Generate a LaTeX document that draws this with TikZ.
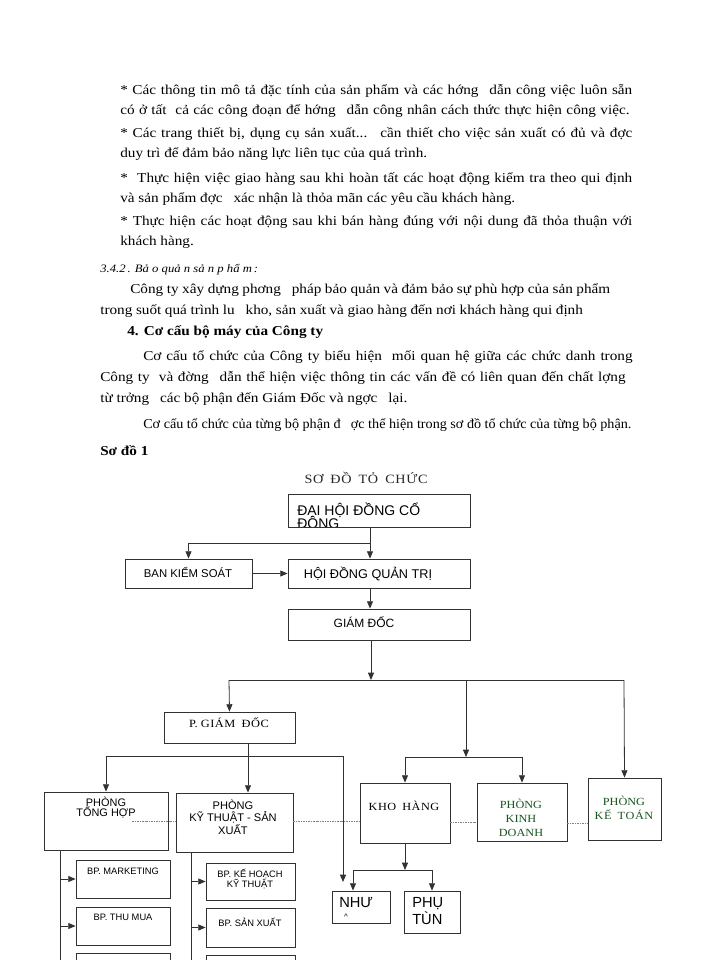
\documentclass[tikz,border=0pt]{standalone}
\usepackage{fontspec}
\usepackage{graphicx}
\setmainfont{Liberation Serif}[FakeStretch=1.12]
\newfontfamily\arialf{Liberation Sans}
\usetikzlibrary{arrows.meta}
\definecolor{lnc}{RGB}{50,50,50}
\definecolor{dgreen}{RGB}{25,85,30}
\tikzset{
  box/.style={draw=lnc, line width=0.6pt, rectangle, inner sep=0pt},
  arr/.style={draw=lnc, line width=0.6pt, -{Triangle[length=5.5pt,width=4.5pt]}},
  ln/.style={draw=lnc, line width=0.6pt},
  dotl/.style={draw=gray, line width=0.6pt, dash pattern=on 1.5pt off 0.8pt on 0.5pt off 0.8pt},
  body/.style={anchor=base west, inner sep=0pt, font=\fontsize{10.2}{12}\selectfont},
  sans/.style={inner sep=0pt, align=center, font=\arialf},
  serif/.style={inner sep=0pt, align=center},
}
\newcommand\boxat[5]{\node[box, minimum width={(#4-#2)*0.75pt}, minimum height={(#5-#3)*0.75pt}] (#1) at ({(#2+#4)/2},{(#3+#5)/2}) {};}
\newcommand\gp{\hspace{0.8em}}
\begin{document}
\begin{tikzpicture}[x=0.75pt,y=-0.75pt]
\useasboundingbox (0,0) rectangle (700,960);
\clip (0,0) rectangle (700,960);
\fill[white] (0,0) rectangle (700,960);
% ---------------- body text ----------------
\node[body] (t1) at (120,94) {\makebox[384pt][s]{* Các thông tin mô tả đặc tính của sản phẩm và các hớng\gp dẫn công việc luôn sẵn}};
\node[body] (t2) at (120,114) {\makebox[382pt][s]{có ở tất \ cả các công đoạn để hớng\gp dẫn công nhân cách thức thực hiện công việc.}};
\node[body] (t3) at (120,137) {\makebox[384pt][s]{* Các trang thiết bị, dụng cụ sản xuất... \ cần thiết cho việc sản xuất có đủ và đợc}};
\node[body] (t4) at (120,157) {duy trì để đảm bảo năng lực liên tục của quá trình.};
\node[body] (t5) at (120,182) {\makebox[384pt][s]{* \ Thực hiện việc giao hàng sau khi hoàn tất các hoạt động kiểm tra theo qui định}};
\node[body] (t6) at (120,202) {và sản phẩm đợc\gp xác nhận là thỏa mãn các yêu cầu khách hàng.};
\node[body] (t7) at (120,225) {\makebox[384pt][s]{* Thực hiện các hoạt động sau khi bán hàng đúng với nội dung đã thỏa thuận với}};
\node[body] (t8) at (120,245) {khách hàng.};
\node[body, font=\fontsize{8.5}{10}\selectfont\itshape] (t9) at (100,272) {3.4.2\,. Bả o quả n sả n p hẩ m\,:};
\node[body] (t10) at (130,293) {\makebox[360pt][s]{Công ty xây dựng phơng\gp pháp bảo quản và đảm bảo sự phù hợp của sản phẩm}};
\node[body] (t11) at (100,314) {\makebox[362pt][s]{trong suốt quá trình lu\gp kho, sản xuất và giao hàng đến nơi khách hàng qui định}};
\node[body, font=\fontsize{10.2}{12}\selectfont\bfseries] (t12) at (127,335) {4. Cơ cấu bộ máy của Công ty};
\node[body] (t13) at (143,360) {\makebox[367pt][s]{Cơ cấu tổ chức của Công ty biểu hiện \ mối quan hệ giữa các chức danh trong}};
\node[body] (t14) at (100,381) {\makebox[394pt][s]{Công ty \ và đờng\gp dẫn thể hiện việc thông tin các vấn đề có liên quan đến chất lợng}};
\node[body] (t15) at (100,402) {từ trởng\gp các bộ phận đến Giám Đốc và ngợc\gp lại.};
\node[body] (t16) at (143,428) {\scalebox{0.93}[1]{Cơ cấu tổ chức của từng bộ phận đ\gp ợc thể hiện trong sơ đồ tổ chức của từng bộ phận.}};
\node[body, font=\fontsize{10.2}{12}\selectfont\bfseries] (t17) at (100,455) {Sơ đồ 1};
% ---------------- chart ----------------
\node[serif, font=\fontsize{9.5}{12}\selectfont, text=black!85] (title) at (366,478) {S\kern0.5ptƠ \ Đ\kern0.5ptỒ \ T\kern0.5ptỎ \ C\kern0.5ptH\kern0.5ptỨ\kern0.5ptC};
\boxat{dhd}{288}{494}{470}{527}
\begin{scope}
\clip (288,494) rectangle (470,526);
\node[sans, anchor=west, font=\arialf\fontsize{10.5}{12}\selectfont] (dhdb) at (297,522) {ĐÔNG};
\end{scope}
\node[sans, anchor=west, font=\arialf\fontsize{10.5}{12}\selectfont] (dhdt) at (297,510) {ĐẠI HỘI ĐỒNG CỔ};
\boxat{bks}{125}{559}{252}{588}
\node[sans, font=\arialf\fontsize{8.5}{10}\selectfont] (bkst) at (188,572) {BAN KIỂM SOÁT};
\boxat{hdqt}{288}{559}{470}{588}
\node[sans, font=\arialf\fontsize{9.5}{11}\selectfont] (hdqtt) at (368,574) {HỘI ĐỒNG QUẢN TRỊ};
\boxat{gd}{288}{609}{470}{640}
\node[sans, font=\arialf\fontsize{9}{11}\selectfont] (gdt) at (364,622) {GIÁM ĐỐC};
\boxat{pgd}{164}{712}{295}{743}
\node[serif, font=\fontsize{8.3}{10}\selectfont] (pgdt) at (229,723) {P.\ G\kern0.4ptI\kern0.4ptÁ\kern0.4ptM \ Đ\kern0.4ptỐ\kern0.4ptC};
\boxat{kho}{360}{783}{450}{843}
\node[serif, font=\fontsize{8.2}{10}\selectfont] (khot) at (404,806) {K\kern0.4ptH\kern0.4ptO \ H\kern0.4ptÀ\kern0.4ptN\kern0.4ptG};
\boxat{kd}{477}{783}{567}{841}
\node[serif, font=\fontsize{8.2}{10.5}\selectfont, text=dgreen] (kdt) at (521,818) {PHÒNG\\KINH\\DOANH};
\boxat{ktoan}{588}{778}{661}{840}
\node[serif, font=\fontsize{8.2}{10}\selectfont, text=dgreen] (ktoant) at (624,808) {PHÒNG\\K\kern0.4ptẾ \ T\kern0.4ptO\kern0.4ptÁ\kern0.4ptN};
\boxat{th}{44}{792}{168}{850}
\node[sans, font=\arialf\fontsize{8.2}{7.5}\selectfont] (tht) at (106,808) {PHÒNG\\TỔNG HỢP};
\boxat{kyt}{176}{793}{293}{852}
\node[sans, font=\arialf\fontsize{8.3}{9.5}\selectfont] (kytt) at (233,817) {PHÒNG\\KỸ THUẬT - SẢN\\XUẤT};
\boxat{mk}{76}{860}{170}{898}
\node[sans, font=\arialf\fontsize{7}{8}\selectfont] (mkt) at (123,871) {BP. MARKETING};
\boxat{tm}{76}{907}{170}{945}
\node[sans, font=\arialf\fontsize{7}{8}\selectfont] (tmt) at (123,917) {BP. THU MUA};
\boxat{b3}{76}{953}{170}{991}
\boxat{khkt}{206}{863}{295}{900}
\node[sans, font=\arialf\fontsize{7}{7.5}\selectfont] (khktt) at (250,879) {BP. KẾ HOẠCH\\KỸ THUẬT};
\boxat{sx}{206}{908}{295}{947}
\node[sans, font=\arialf\fontsize{7}{8}\selectfont] (sxt) at (250,922) {BP. SẢN XUẤT};
\boxat{c3}{206}{955}{295}{993}
\boxat{nhu}{332}{891}{390}{923}
\node[sans, anchor=west, font=\arialf\fontsize{11}{12}\selectfont] (nhut) at (339,903) {NHƯ};
\node[sans, font=\arialf\fontsize{6}{7}\selectfont] (nhua) at (346,917) {\textasciicircum};
\boxat{pt}{404}{891}{460}{933}
\node[sans, anchor=west, align=left, font=\arialf\fontsize{11}{11}\selectfont] (ptt) at (412,911) {PHỤ\\TÙN};
% ---------------- connectors ----------------
\coordinate (j1) at (370,543);
\draw[ln] (dhd.south -| j1) -- (j1);
\draw[arr] (j1) -- (hdqt.north -| j1);
\draw[arr] (j1) -| (bks.north);
\draw[arr] (bks.east) -- (hdqt.west);
\draw[arr] (hdqt.south -| j1) -- (gd.north -| j1);
\coordinate (j2) at (371,680);
\draw[arr] (gd.south -| j2) -- (j2);
\coordinate (jl) at (229,680);
\coordinate (jr) at (624,680);
\coordinate (jm) at (466,680);
\draw[ln] (jl) -- (jr);
\draw[arr] (jl) -- (pgd.north);
\draw[arr] (jr) -- (ktoan.north);
\coordinate (j3) at (466,757);
\draw[arr] (jm) -- (j3);
\coordinate (j3l) at (405,757);
\coordinate (j3r) at (522,757);
\draw[ln] (j3l) -- (j3r);
\draw[arr] (j3l) -- (kho.north);
\draw[arr] (j3r) -- (kd.north);
% P. Giam doc branch
\coordinate (j4l) at (106,756);
\coordinate (j4r) at (343,756);
\draw[ln] (j4l) -- (j4r);
\draw[arr] (pgd.south -| 248,0) -- (kyt.north -| 248,0);
\draw[arr] (j4l) -- (th.north);
\coordinate (nhuarr) at (343,882);
\draw[arr] (j4r) -- (nhuarr);
% Kho hang branch
\coordinate (j5) at (405,870);
\draw[arr] (kho.south) -- (j5);
\coordinate (j5l) at (353,870);
\coordinate (j5r) at (432,870);
\draw[ln] (j5l) -- (j5r);
\draw[arr] (j5l) -- (nhu.north -| j5l);
\draw[arr] (j5r) -- (pt.north);
% left column
\coordinate (v1) at (60,960);
\draw[ln] (th.south -| v1) -- (v1);
\draw[arr] (mk.west -| v1) -- (mk.west);
\draw[arr] (tm.west -| v1) -- (tm.west);
\coordinate (v2) at (191,960);
\draw[ln] (kyt.south -| v2) -- (v2);
\draw[arr] (khkt.west -| v2) -- (khkt.west);
\draw[arr] (sx.west -| v2) -- (sx.west);
% dotted links
\coordinate (d0) at (132,821);
\draw[dotl] (d0) -- (kyt.west |- d0);
\draw[dotl] (kyt.east |- d0) -- (kho.west |- d0);
\draw[dotl] (kho.east |- 0,822) -- (kd.west |- 0,822);
\draw[dotl] (kd.east |- 0,823) -- (ktoan.west |- 0,823);
\end{tikzpicture}
\end{document}
